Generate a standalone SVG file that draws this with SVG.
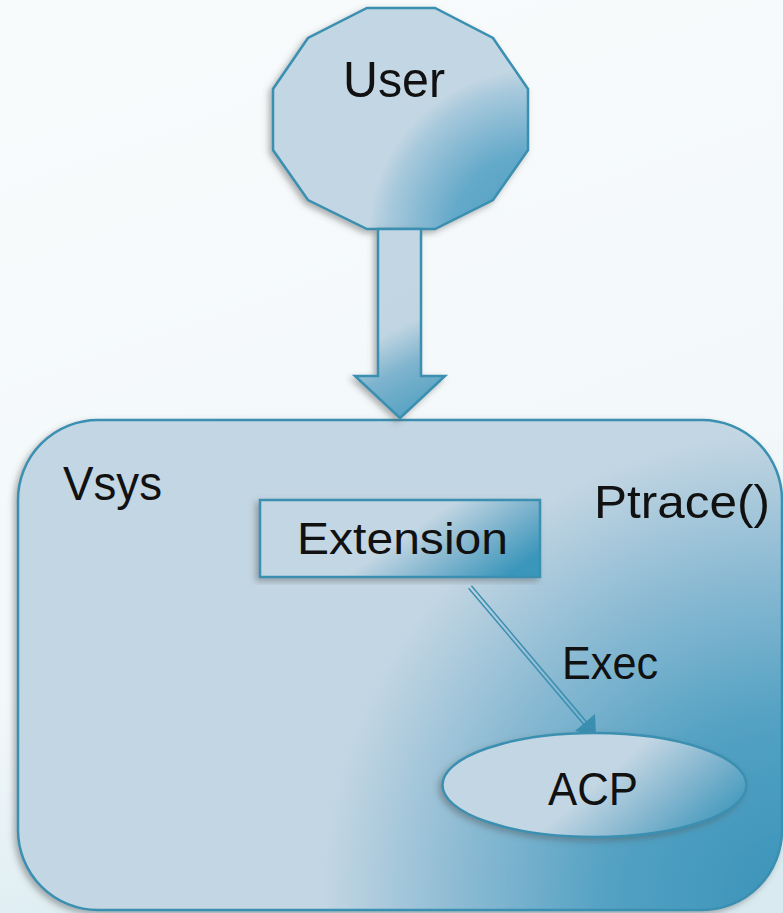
<svg xmlns="http://www.w3.org/2000/svg" width="783" height="913" viewBox="0 0 783 913">
<defs>
  <linearGradient id="bg" x1="0" y1="0" x2="0.3" y2="1">
    <stop offset="0" stop-color="#f8fbfc"/>
    <stop offset="0.7" stop-color="#f3f8fa"/>
    <stop offset="1" stop-color="#d9ebf1"/>
  </linearGradient>
  <radialGradient id="gBig" gradientUnits="userSpaceOnUse" cx="790" cy="900" r="520">
    <stop offset="0" stop-color="#3a94b9"/>
    <stop offset="0.35" stop-color="#53a1c3"/>
    <stop offset="0.65" stop-color="#8fbcd4"/>
    <stop offset="0.9" stop-color="#c3d6e3"/>
  </radialGradient>
  <radialGradient id="gUser" gradientUnits="userSpaceOnUse" cx="535" cy="236" r="185">
    <stop offset="0" stop-color="#4a9dc0"/>
    <stop offset="0.45" stop-color="#64a9c9"/>
    <stop offset="0.8" stop-color="#a8c9dc"/>
    <stop offset="0.9" stop-color="#c3d6e3"/>
  </radialGradient>
  <linearGradient id="gArrow" gradientUnits="userSpaceOnUse" x1="380" y1="300" x2="430" y2="400">
    <stop offset="0" stop-color="#c3d6e3"/>
    <stop offset="0.3" stop-color="#c0d5e2"/>
    <stop offset="0.65" stop-color="#7db3cd"/>
    <stop offset="1" stop-color="#5aa4c4"/>
  </linearGradient>
  <linearGradient id="gExt" x1="0" y1="0.3" x2="1" y2="0.7">
    <stop offset="0" stop-color="#c3d6e3"/>
    <stop offset="0.5" stop-color="#c3d6e3"/>
    <stop offset="0.75" stop-color="#7fb4ce"/>
    <stop offset="1" stop-color="#3a96bb"/>
  </linearGradient>
  <linearGradient id="gAcp" x1="0" y1="0.3" x2="1" y2="0.7">
    <stop offset="0" stop-color="#c3d6e3"/>
    <stop offset="0.5" stop-color="#c3d6e3"/>
    <stop offset="0.75" stop-color="#84b6cf"/>
    <stop offset="1" stop-color="#4198bc"/>
  </linearGradient>
  <filter id="sh" x="-10%" y="-10%" width="120%" height="120%">
    <feDropShadow dx="-3" dy="3" stdDeviation="3" flood-color="#555" flood-opacity="0.45"/>
  </filter>
</defs>
<style>
  .shape { stroke: #3a8fb0; stroke-width: 2.5; }
  .lbl { font-family: "Liberation Sans", Arial, sans-serif; fill: #111; }
  .conn { stroke: #3a8fb0; stroke-width: 1.5; fill: none; }
</style>
<rect x="0" y="0" width="783" height="913" fill="url(#bg)"/>

<g id="vsys">
  <rect class="shape" x="18" y="420" width="764" height="490" rx="80" ry="80" fill="url(#gBig)" filter="url(#sh)"/>
  <text class="lbl" x="63" y="500" font-size="48" textLength="99" lengthAdjust="spacingAndGlyphs">Vsys</text>
  <text class="lbl" x="594" y="518" font-size="47" textLength="176" lengthAdjust="spacingAndGlyphs">Ptrace()</text>
</g>

<g id="user">
  <polygon class="shape" fill="url(#gUser)" filter="url(#sh)" points="367,8 435,8 493,38 528,89 528,150 493,200 435,229 367,229 308,200 273,150 273,89 308,38"/>
  <text class="lbl" x="343" y="97" font-size="50" textLength="102" lengthAdjust="spacingAndGlyphs">User</text>
</g>

<g id="connectors">
  <polygon class="shape" fill="url(#gArrow)" filter="url(#sh)" points="378,229 421,229 421,376 445,376 400,418 355,376 378,376"/>
  <line class="conn" x1="471.4" y1="585.8" x2="586.4" y2="721.8"/>
  <line class="conn" x1="468.6" y1="588.2" x2="583.6" y2="724.2"/>
  <polygon fill="#3a8fb0" points="575,731 595,714 596,735"/>
  <text class="lbl" x="562" y="679" font-size="47" textLength="96" lengthAdjust="spacingAndGlyphs">Exec</text>
</g>

<g id="extension">
  <rect class="shape" x="260" y="500" width="280" height="77" fill="url(#gExt)" filter="url(#sh)"/>
  <text class="lbl" x="297" y="554" font-size="44" textLength="211" lengthAdjust="spacingAndGlyphs">Extension</text>
</g>

<g id="acp">
  <ellipse class="shape" cx="594.5" cy="785" rx="152" ry="52" fill="url(#gAcp)" filter="url(#sh)"/>
  <text class="lbl" x="548" y="805" font-size="46" textLength="90" lengthAdjust="spacingAndGlyphs">ACP</text>
</g>
</svg>
